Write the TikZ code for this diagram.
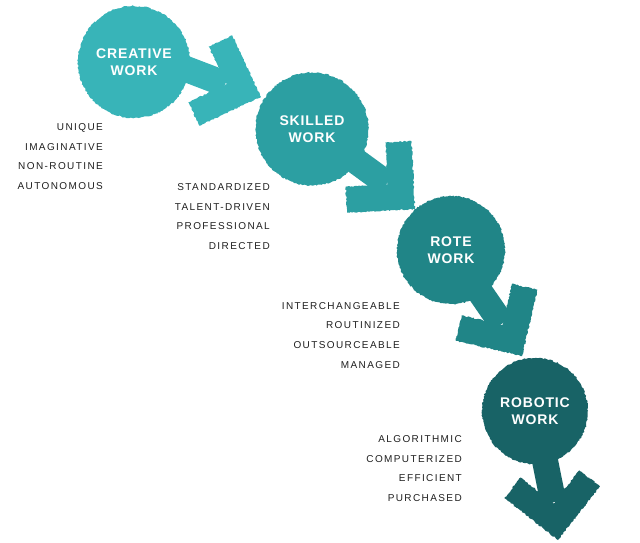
\documentclass[tikz,border=0pt]{standalone}
\usepackage{fontspec}
\usetikzlibrary{decorations.pathmorphing}
\newfontfamily\listfont{Liberation Sans}[LetterSpace=14]
\newfontfamily\titlefont{Liberation Sans}[LetterSpace=6]
\definecolor{cA}{HTML}{38B4B8}
\definecolor{cB}{HTML}{2C9FA2}
\definecolor{cC}{HTML}{208587}
\definecolor{cD}{HTML}{186366}
\definecolor{txt}{HTML}{1F1F1F}
\pgfdeclarelayer{bg}
\pgfsetlayers{bg,main}
\tikzset{
  rough/.style={decorate, decoration={random steps, segment length=1.5pt, amplitude=0.7pt}},
  disc/.style={circle, rough, inner sep=0pt, minimum size=#1, text=white, align=center,
    font=\titlefont\bfseries\fontsize{14}{17.5}\selectfont},
  stem/.style={line width=26pt},
  attrs/.style={anchor=north east, inner sep=0pt, align=right, text=txt,
    font=\listfont\fontsize{10}{19.7}\selectfont},
  chevron/.pic={
    \fill[rough] (0,0) -- (-48.1,48.1) -- (-66.5,29.7) -- (-36.8,0)
      -- (-66.5,-29.7) -- (-48.1,-48.1) -- cycle;
    \coordinate (-join) at (-38,0);
  }
}
\begin{document}
\begin{tikzpicture}[x=1pt,y=-1pt]
\useasboundingbox (0,0) rectangle (640,542);

% circles (main layer)
\node[disc=112pt, fill=cA] (creative) at (134,62) {CREATIVE\\WORK};
\node[disc=113pt, fill=cB] (skilled) at (312,129) {SKILLED\\WORK};
\node[disc=108pt, fill=cC] (rote) at (451,250) {ROTE\\WORK};
\node[disc=106pt, fill=cD] (robotic) at (535,411) {ROBOTIC\\WORK};

\coordinate (s1) at (152,56);

\begin{pgfonlayer}{bg}
  \pic[color=cA, rotate=-20] (h1) at (261,97) {chevron};
  \draw[stem, cA] (s1) -- (h1-join);
  \pic[color=cB, rotate=-42] (h2) at (415,209) {chevron};
  \draw[stem, cB] (skilled.center) -- (h2-join);
  \pic[color=cC, rotate=-58] (h3) at (522,356) {chevron};
  \draw[stem, cC] (rote.center) -- (h3-join);
  \pic[color=cD, rotate=-83] (h4) at (558,540) {chevron};
  \draw[stem, cD] (robotic.center) -- (h4-join);
\end{pgfonlayer}

% attribute lists
\node[attrs] (la) at (103,123.4) {UNIQUE\\IMAGINATIVE\\NON-ROUTINE\\AUTONOMOUS};
\node[attrs] (lb) at (270,183.4) {STANDARDIZED\\TALENT-DRIVEN\\PROFESSIONAL\\DIRECTED};
\node[attrs] (lc) at (400,302) {INTERCHANGEABLE\\ROUTINIZED\\OUTSOURCEABLE\\MANAGED};
\node[attrs] (ld) at (462,435.4) {ALGORITHMIC\\COMPUTERIZED\\EFFICIENT\\PURCHASED};
\end{tikzpicture}
\end{document}
